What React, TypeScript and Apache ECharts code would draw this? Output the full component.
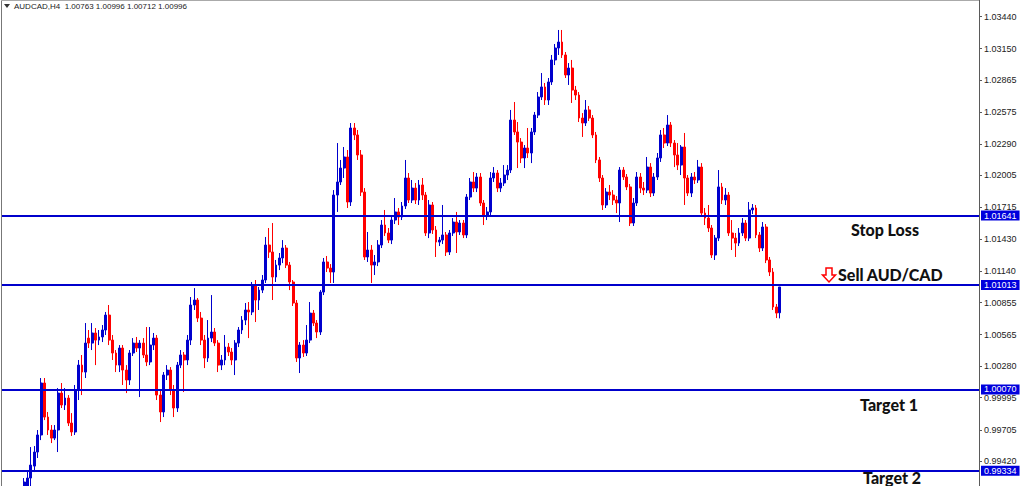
import React, { useEffect, useRef } from "react";
import * as echarts from "echarts";

const chartTitle = "AUDCAD,H4  1.00763 1.00996 1.00712 1.00996";
const leadingEmptyBars = 6;
const totalBarSlots = 287;

const opens = [
  0.99070, 0.99160, 0.99269, 0.99377, 0.99504, 0.99658, 1.00128, 0.99820, 0.99703, 0.99630,
  0.99703, 1.00037, 0.99929, 0.99992, 0.99766, 0.99685, 1.00064, 1.00290, 1.00227, 1.00534,
  1.00489, 1.00580, 1.00516, 1.00544, 1.00607, 1.00742, 1.00516, 1.00399, 1.00290, 1.00444,
  1.00245, 1.00155, 1.00399, 1.00489, 1.00444, 1.00489, 1.00381, 1.00318, 1.00471, 1.00534,
  1.00019, 0.99866, 1.00200, 1.00245, 1.00064, 0.99902, 1.00290, 1.00381, 1.00336, 1.00516,
  1.00833, 1.00878, 1.00715, 1.00516, 1.00354, 1.00534, 1.00589, 1.00489, 1.00290, 1.00336,
  1.00453, 1.00408, 1.00336, 1.00489, 1.00607, 1.00697, 1.00788, 1.00770, 1.01014, 1.00878,
  1.00968, 1.01059, 1.01375, 1.01312, 1.01086, 1.01194, 1.01258, 1.01348, 1.01194, 1.01041,
  1.00851, 1.00354, 1.00471, 1.00399, 1.00516, 1.00760, 1.00670, 1.00589, 1.00950, 1.01222,
  1.01167, 1.01131, 1.01827, 1.01945, 1.02071, 1.02171, 1.01764, 1.02433, 1.02370, 1.02189,
  1.01854, 1.01267, 1.01330, 1.01194, 1.01222, 1.01375, 1.01556, 1.01484, 1.01420, 1.01601,
  1.01674, 1.01628, 1.01728, 1.01981, 1.01782, 1.01890, 1.01782, 1.01918, 1.01827, 1.01484,
  1.01737, 1.01511, 1.01402, 1.01420, 1.01466, 1.01312, 1.01484, 1.01583, 1.01493, 1.01574,
  1.01466, 1.01809, 1.01945, 1.01890, 1.01990, 1.01755, 1.01646, 1.01674, 1.01981, 1.02026,
  1.01890, 1.01936, 1.02008, 1.02053, 1.02505, 1.02397, 1.02306, 1.02162, 1.02252, 1.02207,
  1.02397, 1.02550, 1.02713, 1.02804, 1.02686, 1.02849, 1.03048, 1.03156, 1.03210, 1.03093,
  1.02912, 1.02975, 1.02776, 1.02731, 1.02523, 1.02478, 1.02596, 1.02523, 1.02370, 1.02144,
  1.01981, 1.01737, 1.01854, 1.01827, 1.01782, 1.01755, 1.02053, 1.01990, 1.01900, 1.01574,
  1.01755, 1.01990, 1.01890, 1.01872, 1.02080, 1.01845, 1.01990, 1.02162, 1.02370, 1.02297,
  1.02460, 1.02297, 1.02189, 1.02098, 1.02261, 1.01981, 1.01845, 1.01990, 1.01963, 1.02080,
  1.01664, 1.01619, 1.01529, 1.01285, 1.01438, 1.01900, 1.01782, 1.01827, 1.01484, 1.01438,
  1.01393, 1.01484, 1.01574, 1.01438, 1.01692, 1.01710, 1.01466, 1.01348, 1.01538, 1.01240,
  1.01131, 1.00815, 1.00763,
];

const closes = [
  0.99233, 0.99269, 0.99386, 0.99504, 0.99658, 1.00128, 0.99820, 0.99703, 0.99630, 0.99703,
  1.00037, 0.99929, 0.99992, 0.99766, 0.99685, 1.00064, 1.00290, 1.00227, 1.00489, 1.00489,
  1.00580, 1.00516, 1.00544, 1.00607, 1.00742, 1.00516, 1.00399, 1.00290, 1.00444, 1.00245,
  1.00155, 1.00399, 1.00489, 1.00444, 1.00489, 1.00381, 1.00318, 1.00471, 1.00534, 1.00019,
  0.99866, 1.00200, 1.00245, 1.00064, 0.99902, 1.00290, 1.00381, 1.00336, 1.00516, 1.00833,
  1.00878, 1.00715, 1.00516, 1.00354, 1.00534, 1.00589, 1.00489, 1.00290, 1.00336, 1.00453,
  1.00408, 1.00336, 1.00489, 1.00607, 1.00697, 1.00788, 1.00770, 1.01014, 1.00878, 1.00968,
  1.01059, 1.01375, 1.01312, 1.01086, 1.01194, 1.01258, 1.01348, 1.01194, 1.01041, 1.00851,
  1.00354, 1.00471, 1.00399, 1.00516, 1.00760, 1.00670, 1.00589, 1.00950, 1.01222, 1.01167,
  1.01131, 1.01827, 1.01945, 1.02071, 1.02171, 1.01764, 1.02433, 1.02370, 1.02189, 1.01854,
  1.01267, 1.01330, 1.01194, 1.01222, 1.01375, 1.01556, 1.01484, 1.01420, 1.01601, 1.01674,
  1.01628, 1.01728, 1.01981, 1.01782, 1.01890, 1.01782, 1.01918, 1.01827, 1.01484, 1.01737,
  1.01511, 1.01402, 1.01420, 1.01466, 1.01312, 1.01484, 1.01583, 1.01493, 1.01574, 1.01466,
  1.01809, 1.01945, 1.01890, 1.01990, 1.01755, 1.01646, 1.01674, 1.01981, 1.02026, 1.01890,
  1.01936, 1.02008, 1.02053, 1.02505, 1.02397, 1.02306, 1.02162, 1.02252, 1.02207, 1.02397,
  1.02550, 1.02713, 1.02804, 1.02686, 1.02849, 1.03048, 1.03156, 1.03210, 1.03093, 1.02912,
  1.02975, 1.02776, 1.02731, 1.02523, 1.02478, 1.02596, 1.02523, 1.02370, 1.02144, 1.01981,
  1.01737, 1.01854, 1.01827, 1.01782, 1.01755, 1.02053, 1.01990, 1.01900, 1.01574, 1.01755,
  1.01990, 1.01890, 1.01872, 1.02080, 1.01845, 1.01990, 1.02162, 1.02370, 1.02297, 1.02460,
  1.02297, 1.02189, 1.02098, 1.02261, 1.01981, 1.01845, 1.01990, 1.01963, 1.02080, 1.01664,
  1.01619, 1.01529, 1.01285, 1.01438, 1.01900, 1.01782, 1.01827, 1.01484, 1.01438, 1.01393,
  1.01484, 1.01574, 1.01438, 1.01692, 1.01710, 1.01466, 1.01348, 1.01538, 1.01240, 1.01131,
  1.00815, 1.00760, 1.00996,
];

const lows = [
  0.99025, 0.99088, 0.99160, 0.99323, 0.99450, 0.99612, 0.99793, 0.99658, 0.99585, 0.99612,
  0.99504, 0.99902, 0.99884, 0.99739, 0.99649, 0.99658, 0.99974, 1.00019, 1.00173, 1.00444,
  1.00426, 1.00290, 1.00471, 1.00498, 1.00562, 1.00471, 1.00336, 1.00227, 1.00227, 1.00110,
  1.00037, 1.00110, 1.00372, 1.00408, 1.00001, 1.00354, 1.00281, 1.00290, 1.00426, 0.99974,
  0.99775, 0.99820, 1.00155, 1.00019, 0.99820, 0.99866, 1.00263, 1.00046, 1.00290, 1.00471,
  1.00788, 1.00679, 1.00471, 1.00263, 1.00318, 1.00498, 1.00462, 1.00227, 1.00245, 1.00290,
  1.00372, 1.00290, 1.00200, 1.00453, 1.00571, 1.00652, 1.00534, 1.00742, 1.00679, 1.00788,
  1.00941, 1.01032, 1.01258, 1.00878, 1.01041, 1.01149, 1.01212, 1.01167, 1.00968, 1.00824,
  1.00318, 1.00218, 1.00363, 1.00372, 1.00489, 1.00643, 1.00534, 1.00562, 1.00923, 1.01131,
  1.01032, 1.01032, 1.01674, 1.01918, 1.01981, 1.01710, 1.01728, 1.02324, 1.02144, 1.01818,
  1.01240, 1.01222, 1.01032, 1.01104, 1.01185, 1.01348, 1.01457, 1.01393, 1.01384, 1.01565,
  1.01556, 1.01601, 1.01701, 1.01755, 1.01755, 1.01746, 1.01737, 1.01782, 1.01457, 1.01438,
  1.01475, 1.01267, 1.01366, 1.01384, 1.01276, 1.01285, 1.01457, 1.01303, 1.01466, 1.01438,
  1.01438, 1.01782, 1.01854, 1.01854, 1.01728, 1.01556, 1.01601, 1.01637, 1.01945, 1.01854,
  1.01854, 1.01909, 1.01963, 1.02026, 1.02370, 1.02071, 1.02116, 1.02071, 1.02162, 1.02116,
  1.02370, 1.02523, 1.02686, 1.02641, 1.02641, 1.02822, 1.03002, 1.03093, 1.03066, 1.02885,
  1.02822, 1.02659, 1.02686, 1.02487, 1.02352, 1.02451, 1.02496, 1.02342, 1.02116, 1.01945,
  1.01692, 1.01710, 1.01782, 1.01737, 1.01664, 1.01583, 1.01963, 1.01872, 1.01547, 1.01547,
  1.01728, 1.01845, 1.01827, 1.01845, 1.01809, 1.01818, 1.01963, 1.02126, 1.02252, 1.02270,
  1.02261, 1.02080, 1.02053, 1.02008, 1.01737, 1.01818, 1.01809, 1.01927, 1.01936, 1.01637,
  1.01556, 1.01493, 1.01258, 1.01240, 1.01411, 1.01746, 1.01737, 1.01457, 1.01330, 1.01267,
  1.01366, 1.01457, 1.01411, 1.01411, 1.01655, 1.01438, 1.01312, 1.01321, 1.01212, 1.01095,
  1.00788, 1.00715, 1.00712,
];

const highs = [
  0.99269, 0.99341, 0.99549, 0.99558, 0.99703, 1.00173, 1.00173, 0.99866, 0.99748, 0.99748,
  1.00082, 1.00128, 1.00082, 1.00019, 0.99856, 1.00110, 1.00336, 1.00381, 1.00670, 1.00607,
  1.00670, 1.00625, 1.00607, 1.00652, 1.00770, 1.00833, 1.00562, 1.00426, 1.00471, 1.00471,
  1.00290, 1.00426, 1.00534, 1.00544, 1.00516, 1.00534, 1.00634, 1.00634, 1.00580, 1.00562,
  1.00064, 1.00227, 1.00290, 1.00272, 1.00110, 1.00318, 1.00426, 1.00408, 1.00562, 1.00905,
  1.00986, 1.00896, 1.00770, 1.00562, 1.00697, 1.00923, 1.00625, 1.00516, 1.00381, 1.00562,
  1.00489, 1.00444, 1.00516, 1.00634, 1.00733, 1.00851, 1.00860, 1.01041, 1.01059, 1.00996,
  1.01104, 1.01448, 1.01529, 1.01574, 1.01240, 1.01303, 1.01420, 1.01375, 1.01222, 1.01059,
  1.00878, 1.00498, 1.00516, 1.00652, 1.00860, 1.00788, 1.00697, 1.00968, 1.01258, 1.01276,
  1.01203, 1.01872, 1.02297, 1.02144, 1.02261, 1.02234, 1.02478, 1.02478, 1.02415, 1.02234,
  1.01890, 1.01493, 1.01375, 1.01285, 1.01420, 1.01601, 1.01692, 1.01529, 1.01637, 1.01800,
  1.01710, 1.01764, 1.02144, 1.02026, 1.01963, 1.01936, 1.01963, 1.01981, 1.01854, 1.01782,
  1.01764, 1.01547, 1.01448, 1.01737, 1.01493, 1.01511, 1.01619, 1.01674, 1.01601, 1.01601,
  1.01836, 1.01981, 1.02035, 1.02026, 1.02026, 1.01782, 1.01719, 1.02035, 1.02080, 1.02053,
  1.01981, 1.02098, 1.02098, 1.02596, 1.02668, 1.02487, 1.02342, 1.02279, 1.02433, 1.02433,
  1.02578, 1.02758, 1.02930, 1.02840, 1.02885, 1.03093, 1.03192, 1.03319, 1.03319, 1.03120,
  1.03020, 1.03048, 1.02813, 1.02758, 1.02568, 1.02686, 1.02632, 1.02550, 1.02397, 1.02171,
  1.02008, 1.01890, 1.01918, 1.01872, 1.01818, 1.02080, 1.02080, 1.02017, 1.01927, 1.01800,
  1.02035, 1.02026, 1.01945, 1.02171, 1.02116, 1.02026, 1.02207, 1.02415, 1.02433, 1.02550,
  1.02487, 1.02324, 1.02297, 1.02279, 1.02388, 1.02008, 1.02026, 1.02035, 1.02144, 1.02116,
  1.01710, 1.01737, 1.01556, 1.01466, 1.02053, 1.01936, 1.01890, 1.01854, 1.01601, 1.01484,
  1.01529, 1.01619, 1.01601, 1.01764, 1.01746, 1.01737, 1.01493, 1.01583, 1.01565, 1.01267,
  1.01167, 1.00842, 1.00996,
];

const priceAxisLabels = [
  1.0344, 1.0315, 1.02865, 1.02575, 1.0229, 1.02005, 1.01715, 1.0143,
  1.0114, 1.00855, 1.00565, 1.0028, 0.99995, 0.99705, 0.9942,
];
const levelPrices = [1.01641, 1.01013, 1.0007, 0.99334];
const priceMin = 0.99197;
const priceMax = 1.0359;

export default function App() {
  const ref = useRef<HTMLDivElement>(null);

  useEffect(() => {
    document.body.style.margin = "0";
    const chart = echarts.init(ref.current as HTMLDivElement, null, { renderer: "svg" });
    const slots = Array.from({ length: totalBarSlots }, (_, i) => String(i));
    const candles = opens.map((o, i) => [i + leadingEmptyBars, o, closes[i], lows[i], highs[i]]);
    const boldFont = "900 16px Lato";

    chart.setOption({
      animation: false,
      backgroundColor: "#ffffff",
      grid: { left: 2, right: 45, top: 0, bottom: 0 },
      xAxis: {
        type: "category",
        data: slots,
        show: false,
        boundaryGap: true,
      },
      yAxis: {
        type: "value",
        position: "right",
        min: priceMin,
        max: priceMax,
        axisLine: { show: true, lineStyle: { color: "#5a5a5a", width: 1 } },
        axisTick: {
          show: true,
          length: 3,
          customValues: priceAxisLabels,
          lineStyle: { color: "#5a5a5a" },
        },
        axisLabel: {
          customValues: priceAxisLabels,
          formatter: (v: number) => v.toFixed(5),
          color: "#222",
          fontSize: 9,
          fontFamily: "Liberation Sans",
          margin: 5,
        },
        splitLine: { show: false },
      },
      series: [
        {
          type: "candlestick",
          data: candles,
          encode: { x: 0, y: [1, 2, 3, 4] },
          barWidth: 2.4,
          clip: true,
          itemStyle: {
            color: "#0000cd",
            color0: "#ff0000",
            borderColor: "#0000cd",
            borderColor0: "#ff0000",
            borderWidth: 1,
          },
          markLine: {
            symbol: "none",
            silent: true,
            precision: 5,
            lineStyle: { color: "#0000cc", width: 2, type: "solid" },
            label: {
              show: true,
              position: "end",
              distance: 2,
              formatter: (p: any) => Number(p.value).toFixed(5),
              backgroundColor: "#0000dd",
              color: "#ffffff",
              fontSize: 9,
              fontFamily: "Liberation Sans",
              padding: [1, 3, 0, 3],
            },
            emphasis: { disabled: true },
            data: levelPrices.map((v) => ({ yAxis: v })),
          },
        },
      ],
      graphic: [
        {
          type: "line",
          shape: { x1: 1.5, y1: 0, x2: 1.5, y2: 486 },
          style: { stroke: "#777", lineWidth: 1 },
        },
        {
          type: "line",
          shape: { x1: 1, y1: 0.5, x2: 979, y2: 0.5 },
          style: { stroke: "#aaa", lineWidth: 1 },
        },
        {
          type: "polygon",
          shape: { points: [[4, 4], [10, 4], [7, 8]] },
          style: { fill: "#333" },
        },
        {
          type: "text",
          style: {
            text: chartTitle,
            x: 14,
            y: 6,
            font: "8px Liberation Sans",
            fill: "#222",
            textAlign: "left",
            textVerticalAlign: "middle",
          },
        },
        {
          type: "text",
          style: {
            text: "Stop Loss",
            x: 885,
            y: 229,
            font: boldFont,
            fill: "#111",
            textAlign: "center",
            textVerticalAlign: "middle",
          },
        },
        {
          type: "polygon",
          shape: {
            points: [[826, 268], [832, 268], [832, 275], [835.5, 275], [829, 282], [822.5, 275], [826, 275]],
          },
          style: { fill: "#ffffff", stroke: "#ff0000", lineWidth: 1.5 },
        },
        {
          type: "text",
          style: {
            text: "Sell AUD/CAD",
            x: 838,
            y: 274,
            font: boldFont,
            fill: "#111",
            textAlign: "left",
            textVerticalAlign: "middle",
          },
        },
        {
          type: "text",
          style: {
            text: "Target 1",
            x: 889,
            y: 404,
            font: boldFont,
            fill: "#111",
            textAlign: "center",
            textVerticalAlign: "middle",
          },
        },
        {
          type: "text",
          style: {
            text: "Target 2",
            x: 892,
            y: 477,
            font: boldFont,
            fill: "#111",
            textAlign: "center",
            textVerticalAlign: "middle",
          },
        },
      ],
    });

    return () => chart.dispose();
  }, []);

  return <div ref={ref} style={{ width: 1024, height: 486 }} />;
}
